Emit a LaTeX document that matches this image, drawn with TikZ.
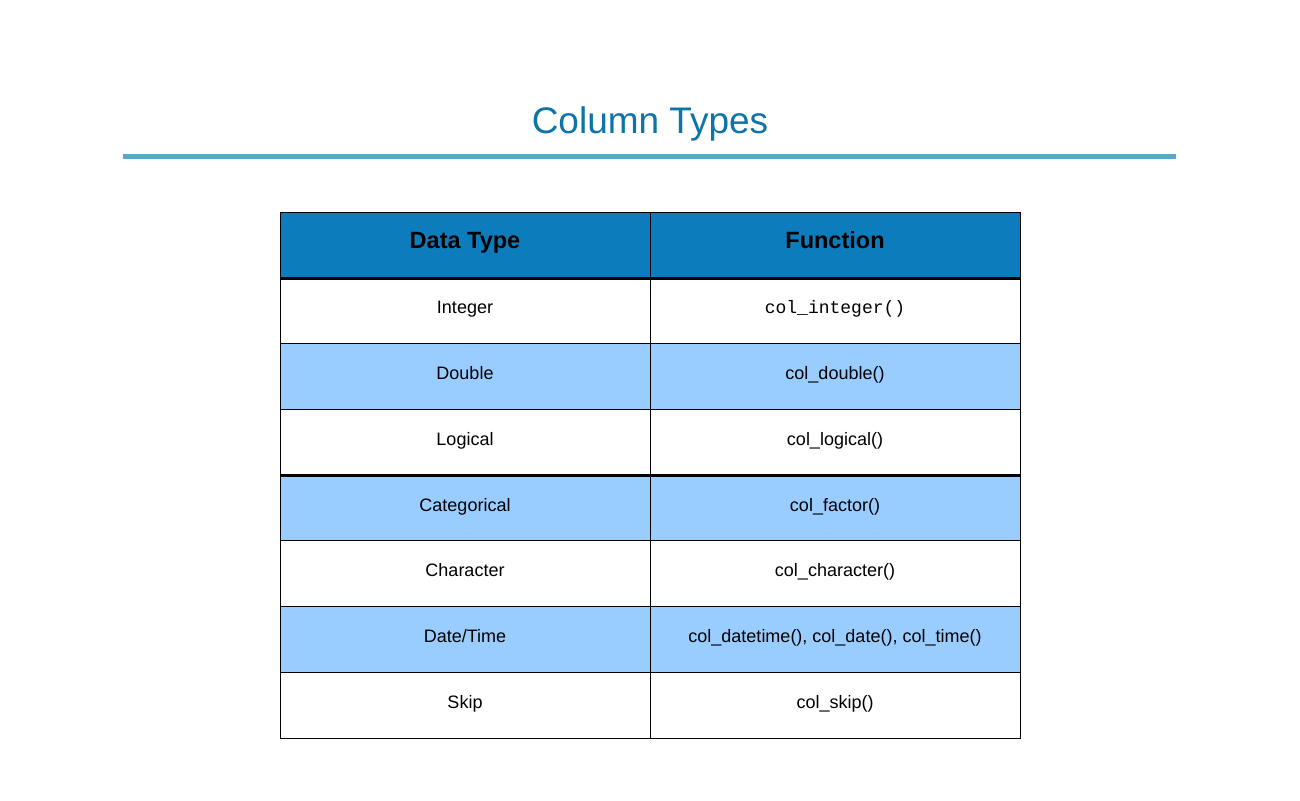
\documentclass[tikz,border=0pt]{standalone}
\usepackage{fontspec}
\setmainfont{Liberation Sans}
\setmonofont{Liberation Mono}
\usepackage{xcolor}
\definecolor{title blue}{RGB}{14,115,168}
\definecolor{rule blue}{RGB}{88,166,202}
\definecolor{header blue}{RGB}{12,124,189}
\definecolor{row blue}{RGB}{153,204,255}

\begin{document}
\begin{tikzpicture}[x=1pt, y=-1pt,
					table cell/.style={draw, line width=1pt, rectangle, minimum width=370pt, minimum height=65.75pt, inner sep=0pt, text height=1.5ex, text depth=.3ex, font=\fontsize{18}{20}\selectfont},
					head cell/.style={table cell, fill=header blue, font=\fontsize{23.5}{26}\selectfont\bfseries},
					heavy line/.style={line width=2.6pt},
				]
					\useasboundingbox (0,0) rectangle (1300,800);
					
					\node[text=title blue, font=\fontsize{37}{40}\selectfont] (title) at (650,124) {Column Types};
					\fill[rule blue] (123,154) rectangle (1176,159);
					
					\node[head cell] (head type) at (465,245) {Data Type};
					\node[head cell] (head fun) at (835,245) {Function};
					
					\foreach \typ/\fun/\shade [count=\i] in {
						Integer/{\texttt{col\_integer()}}/white,
						Double/{col\_double()}/row blue,
						Logical/{col\_logical()}/white,
						Categorical/{col\_factor()}/row blue,
						Character/{col\_character()}/white,
						Date\slash Time/{col\_datetime(), col\_date(), col\_time()}/row blue,
						Skip/{col\_skip()}/white}
					{
						\node[table cell, fill=\shade] (type\i) at (465,245+65.75*\i) {\typ};
						\node[table cell, fill=\shade] (fun\i) at (835,245+65.75*\i) {\fun};
					}
					
					\draw[heavy line] (head type.south west) -- (head fun.south east);
					\draw[heavy line] (type3.south west) -- (fun3.south east);
				\end{tikzpicture}
\end{document}
